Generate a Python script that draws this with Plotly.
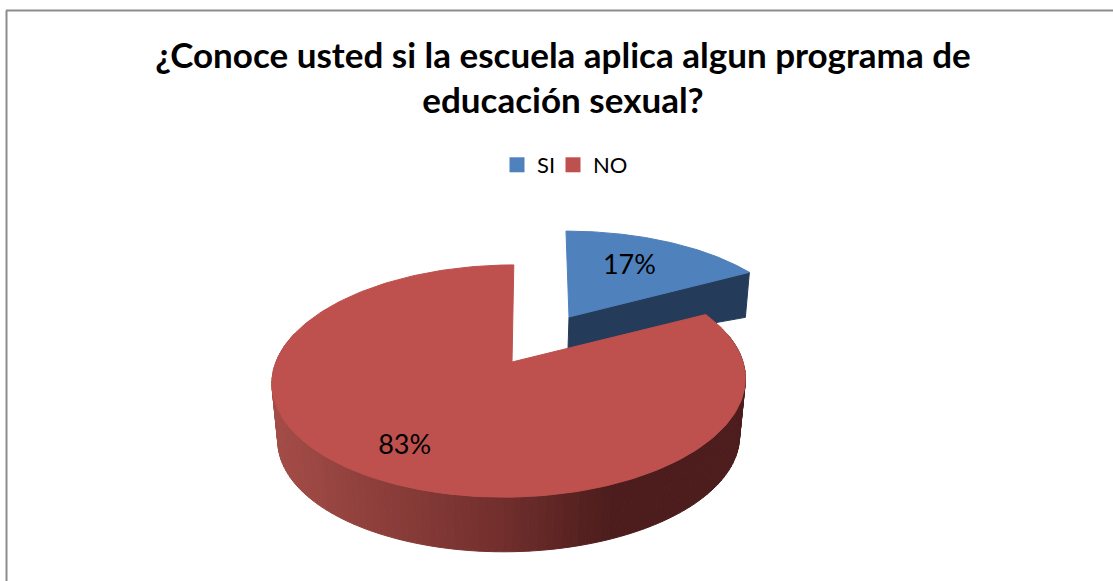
import numpy as np
import plotly.graph_objects as go

# ---- data ----
categories = ["SI", "NO"]
values = [17, 83]
labels = ["17%", "83%"]
title_lines = ["¿Conoce usted si la escuela aplica algun programa de", "educación sexual?"]

FONT = "Lato"
BLUE, RED = "#4f81bd", "#be504d"
BLUE_WALL = "#243b5a"
W, H = 1113, 581

# ---- tilted-disc projection (the chart's own scale: value -> angle -> page) ----
K = 0.164
big = dict(cx=509.5, cy=362, a=233.5, b=113, sk=-5, ax=2.5)
small = dict(cx=569, cy=317, a=224, b=100, sk=3.5, ax=0)


def project(theta, r, p, scale=1.0, dy=0.0):
    X = r * np.sin(theta)
    Y = -r * np.cos(theta)
    den = 1 - K * Y
    return (p["cx"] + scale * (p["a"] * X + p["sk"] * Y) / den,
            p["cy"] + dy + scale * p["b"] * Y / den)


def wedge(t0, t1, p):
    th = np.linspace(t0, t1, 240)
    x, y = project(th, 1.0, p)
    ax = p["cx"] + p["ax"]
    ay = p["cy"]
    return np.r_[ax, x, ax], np.r_[ay, y, ay]


total = sum(values)
split = 2 * np.pi * values[0] / total
nudge = np.radians(2)  # perspective shift of the big slice's right cut

fig = go.Figure()

# back slice: cut-face wall, then top
xs, ys = project(np.array([split]), 1.0, small)
fig.add_trace(go.Scatter(
    x=[small["cx"], xs[0], xs[0] - 4, small["cx"] - 1, small["cx"]],
    y=[small["cy"], ys[0], ys[0] + 45, small["cy"] + 32, small["cy"]],
    mode="lines", fill="toself", fillcolor=BLUE_WALL,
    line=dict(color=BLUE_WALL, width=1), showlegend=False, hoverinfo="skip"))
x, y = wedge(0, split, small)
fig.add_trace(go.Scatter(x=x, y=y, mode="lines", fill="toself", fillcolor=BLUE,
                         line=dict(color=BLUE, width=1), showlegend=False,
                         name=categories[0]))

# big slice: shaded rim in strips, then top
stops_x = [272, 500, 610, 760]
stops_c = np.array([[0xa4, 0x4c, 0x47], [0x72, 0x2f, 0x2d], [0x4c, 0x1d, 0x1c], [0x4c, 0x1d, 0x1c]])
edges = np.linspace(np.radians(75), np.radians(285), 121)
BOT = 0.975
for t0, t1 in zip(edges[:-1], edges[1:]):
    th = np.linspace(t0, t1, 4)
    xt, yt = project(th, 1.0, big)
    xb, yb = project(th[::-1], 1.0, big, scale=BOT, dy=58)
    mx = xt.mean()
    col = [int(round(np.interp(mx, stops_x, stops_c[:, i]))) for i in range(3)]
    c = f"rgb({col[0]},{col[1]},{col[2]})"
    fig.add_trace(go.Scatter(x=np.r_[xt, xb, xt[0]], y=np.r_[yt, yb, yt[0]],
                             mode="lines", fill="toself", fillcolor=c,
                             line=dict(color=c, width=1), showlegend=False, hoverinfo="skip"))
x, y = wedge(split + nudge, 2 * np.pi, big)
fig.add_trace(go.Scatter(x=x, y=y, mode="lines", fill="toself", fillcolor=RED,
                         line=dict(color=RED, width=1), showlegend=False,
                         name=categories[1]))

# value labels
mid0 = split / 2
mid1 = split + (2 * np.pi - split) / 2
lx0, ly0 = project(np.array([mid0]), 0.60, small)
lx1, ly1 = project(np.array([mid1]), 0.76, big)
fig.add_trace(go.Scatter(x=[lx0[0] - 1, lx1[0]], y=[ly0[0] - 2, ly1[0] + 2], mode="text", text=labels,
                         textposition="middle center",
                         textfont=dict(family=FONT, size=27, color="#000000"),
                         showlegend=False, hoverinfo="skip"))

# legend entries, one small legend per category for the reference's tighter spacing
for name, col, leg in zip(categories, [BLUE, RED], ["legend", "legend2"]):
    fig.add_trace(go.Scatter(x=[None], y=[None], mode="markers", name=name, legend=leg,
                             marker=dict(symbol="square", size=15, color=col)))

leg_common = dict(orientation="h", xanchor="left", y=1 - 165 / H, yanchor="middle",
                  font=dict(family=FONT, size=22, color="#000000"),
                  bgcolor="rgba(0,0,0,0)", itemwidth=30)

fig.update_layout(
    width=W, height=H, margin=dict(l=0, r=0, t=0, b=0),
    paper_bgcolor="white", plot_bgcolor="white",
    xaxis=dict(range=[0, W], visible=False, domain=[0, 1], fixedrange=True),
    yaxis=dict(range=[H, 0], visible=False, domain=[0, 1], fixedrange=True),
    title=dict(text="<br>".join(title_lines), x=563 / W, xanchor="center", y=1 - 67.5 / H, yanchor="top",
               font=dict(family=FONT, size=35, color="#000000", weight="bold")),
    legend=dict(x=497 / W, **leg_common),
    legend2=dict(x=553 / W, **leg_common),
    shapes=[
        dict(type="line", xref="x", yref="y", x0=6.5, x1=6.5, y0=10.5, y1=H, line=dict(color="#8c8c8c", width=2)),
        dict(type="line", xref="x", yref="y", x0=6, x1=W, y0=10.5, y1=10.5, line=dict(color="#8c8c8c", width=2)),
    ],
)

fig.write_html("out.html", config={"displayModeBar": False},
               post_script="document.body.style.margin='0';")
